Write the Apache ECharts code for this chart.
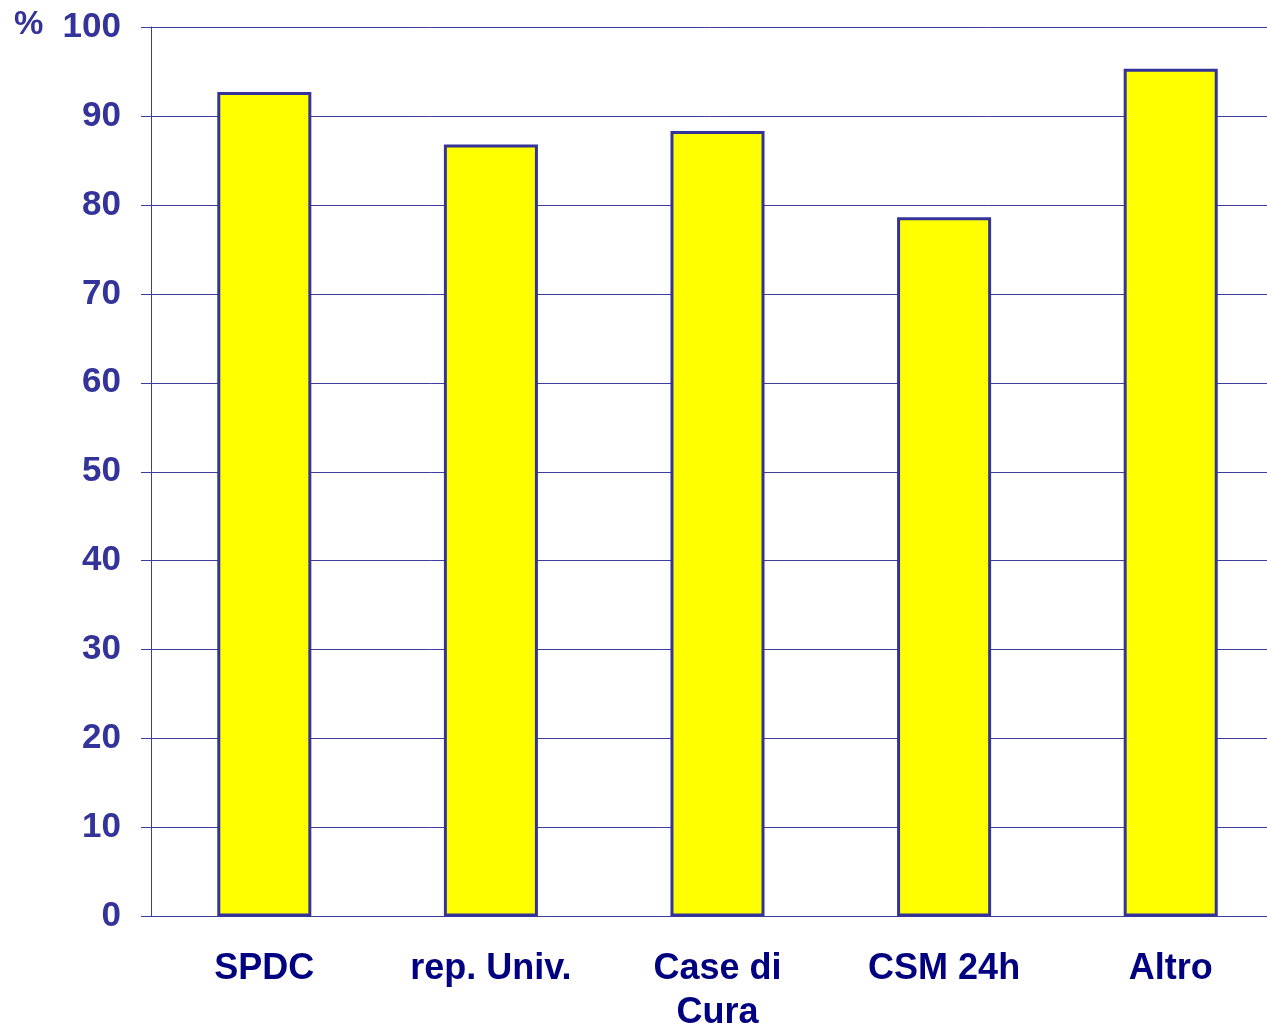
<!DOCTYPE html>
<html>
<head>
<meta charset="utf-8">
<style>html,body{margin:0;padding:0;background:#fff;}#chart{width:1267px;height:1025px;}</style>
<script src="https://cdn.jsdelivr.net/npm/echarts@6/dist/echarts.min.js"></script>
</head>
<body>
<div id="chart"></div>
<script>
var categories = ['SPDC', 'rep. Univ.', 'Case di\nCura', 'CSM 24h', 'Altro'];
var values = [92.7, 86.8, 88.3, 78.6, 95.3];
var yTicks = { min: 0, max: 100, interval: 10 };
var unitLabel = '%';

var chart = echarts.init(document.getElementById('chart'), null, { renderer: 'canvas' });
var font = "'Liberation Sans', Arial, sans-serif";
var lineColor = '#3d3d9c';
chart.setOption({
  animation: false,
  backgroundColor: '#ffffff',
  grid: { left: 151, right: -17, top: 27, bottom: 108.5, containLabel: false, outerBoundsMode: 'none' },
  graphic: [{
    type: 'text', left: 14, top: 8,
    style: { text: unitLabel, fill: '#333399', font: 'bold 33px ' + font }
  }],
  xAxis: {
    type: 'category',
    data: categories,
    axisLine: { show: true, lineStyle: { color: lineColor, width: 1 } },
    axisTick: { show: false },
    axisLabel: {
      color: '#000080', fontWeight: 'bold', fontSize: 36, fontFamily: font,
      margin: 31, lineHeight: 44, interval: 0
    }
  },
  yAxis: {
    type: 'value',
    min: yTicks.min, max: yTicks.max, interval: yTicks.interval,
    axisLine: { show: true, lineStyle: { color: lineColor, width: 1 } },
    axisTick: { show: true, length: 10, lineStyle: { color: lineColor, width: 1 } },
    splitLine: { show: true, lineStyle: { color: lineColor, width: 1 } },
    axisLabel: {
      color: '#333399', fontWeight: 'bold', fontSize: 35, fontFamily: font, margin: 30
    }
  },
  series: [{
    type: 'bar',
    data: values,
    barWidth: '41.5%',
    itemStyle: { color: '#ffff00', borderColor: '#333399', borderWidth: 3 }
  }]
});
</script>
</body>
</html>
